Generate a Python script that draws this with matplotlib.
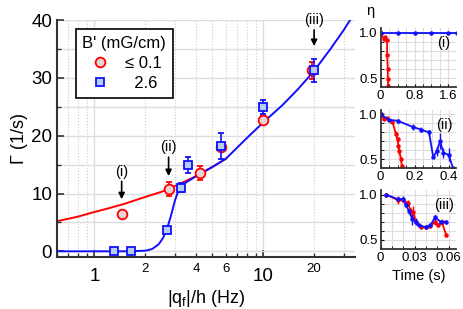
import numpy as np
import matplotlib
matplotlib.use('Agg')
from matplotlib import pyplot as plt
from matplotlib.lines import Line2D
from matplotlib.ticker import FixedLocator, FixedFormatter

plt.rcParams['font.family'] = ['Liberation Sans', 'DejaVu Sans']
plt.rcParams['mathtext.default'] = 'regular'

# main panel data: Gamma vs |q_f|/h
q_red = [1.45, 2.75, 4.2, 5.6, 10.0, 19.5]
g_red = [6.5, 10.8, 13.5, 18.0, 22.8, 31.3]
e_red = [0.0, 1.2, 1.2, 0.0, 0.6, 1.5]

q_blue = [1.3, 1.65, 2.7, 3.25, 3.6, 5.6, 10.0, 20.0]
g_blue = [0.0, 0.0, 3.7, 11.0, 15.0, 18.2, 25.0, 31.3]
e_blue = [0.0, 0.0, 0.0, 0.8, 1.4, 2.3, 1.2, 2.0]

# fitted curves
qf_red = [0.6, 0.8, 1.0, 1.2, 1.5, 2.0, 2.5, 3.0, 3.5, 4.0, 5.0, 6.0]
gf_red = [5.2, 6.0, 6.8, 7.4, 8.2, 9.4, 10.3, 11.3, 12.2, 13.0, 14.6, 16.0]
qf_blue = [0.6, 1.0, 1.5, 2.0, 2.2, 2.4, 2.55, 2.7, 2.85, 3.0, 3.1, 3.2, 3.4,
           4.0, 5.0, 6.0, 8.0, 10.0, 13.0, 16.0, 20.0, 25.0, 30.0, 33.5]
gf_blue = [0.0, 0.0, 0.0, 0.1, 0.4, 1.2, 2.3, 4.0, 6.3, 8.8, 10.0, 10.8, 11.7,
           13.0, 14.6, 16.0, 19.6, 22.3, 25.3, 28.0, 31.2, 35.0, 38.3, 40.5]

arrow_q = [1.45, 2.75, 20.0]
arrow_tip = [9.0, 13.0, 35.5]
arrow_txt = [13.8, 18.0, 40.0]
arrow_lab = ['(i)', '(ii)', '(iii)']

# small panels: eta vs time
t1_red = [0, 0.08, 0.11, 0.15, 0.155, 0.17, 0.17, 0.18]
e1_red = [1.0, 0.93, 0.95, 0.92, 0.75, 0.6, 0.49, 0.41]
t1_blue = [0, 0.4, 0.8, 1.2, 1.6, 1.8]
e1_blue = [1.0, 1.0, 1.0, 1.0, 1.0, 1.0]

t2_red = [0, 0.02, 0.04, 0.07, 0.09, 0.1, 0.105, 0.11, 0.12, 0.125]
e2_red = [1.0, 0.95, 0.96, 0.92, 0.78, 0.72, 0.65, 0.59, 0.5, 0.42]
s2_red = [0, 0, 0, 0.02, 0.03, 0.03, 0.03, 0.03, 0.02, 0]
t2_blue = [0, 0.05, 0.10, 0.19, 0.24, 0.285, 0.31, 0.33, 0.35, 0.37, 0.40, 0.426]
e2_blue = [1.0, 0.94, 0.93, 0.86, 0.83, 0.80, 0.52, 0.59, 0.70, 0.57, 0.55, 0.40]
s2_blue = [0, 0, 0.02, 0.03, 0.03, 0.03, 0, 0.05, 0.09, 0.06, 0.07, 0]

t3_red = [0.005, 0.015, 0.02, 0.024, 0.027, 0.029, 0.031, 0.036, 0.04, 0.044, 0.048, 0.051, 0.054, 0.058]
e3_red = [1.0, 0.94, 0.94, 0.91, 0.81, 0.81, 0.70, 0.64, 0.64, 0.65, 0.70, 0.66, 0.70, 0.55]
s3_red = [0, 0.04, 0.02, 0.03, 0.04, 0.06, 0.03, 0.02, 0.02, 0.02, 0.03, 0.02, 0.03, 0.02]
t3_blue = [0.005, 0.015, 0.02, 0.022, 0.025, 0.028, 0.031, 0.034, 0.04, 0.044, 0.048, 0.053, 0.058]
e3_blue = [1.0, 0.95, 0.95, 0.89, 0.82, 0.73, 0.70, 0.66, 0.64, 0.66, 0.75, 0.70, 0.70]
s3_blue = [0, 0.02, 0.03, 0.03, 0.03, 0.06, 0.04, 0.02, 0.02, 0.02, 0.03, 0.02, 0.02]

RED = '#ff0000'
BLUE = '#1010ff'

fig = plt.figure(figsize=(4.63, 3.09), dpi=100)
ax = fig.add_axes([0.123, 0.168, 0.644, 0.767])

ax.plot(qf_red, gf_red, color=RED, lw=1.4, zorder=2)
ax.plot(qf_blue, gf_blue, color=BLUE, lw=1.4, zorder=3)
ax.errorbar(q_red, g_red, yerr=e_red, fmt='o', ms=7, mfc='#e8d4d4', mec=RED,
            mew=1.3, ecolor=RED, elinewidth=1.2, capsize=2, zorder=4)
ax.errorbar(q_blue, g_blue, yerr=e_blue, fmt='s', ms=6, mfc='#b4cdf0', mec=BLUE,
            mew=1.3, ecolor=BLUE, elinewidth=1.2, capsize=2, zorder=5)

for q, tip, ty, lab in zip(arrow_q, arrow_tip, arrow_txt, arrow_lab):
    ax.annotate('', xy=(q, tip), xytext=(q, ty - 1.7),
                arrowprops=dict(arrowstyle='-|>', color='black', lw=1.2,
                                mutation_scale=9, shrinkA=0, shrinkB=0))
    ax.text(q, ty, lab, ha='center', va='center', fontsize=10.5)

ax.set_xscale('log')
ax.set_xlim(0.6, 35)
ax.set_ylim(-1, 40)
ax.xaxis.set_major_locator(FixedLocator([1, 10]))
ax.xaxis.set_major_formatter(FixedFormatter(['1', '10']))
minors = [0.6, 0.7, 0.8, 0.9, 2, 3, 4, 5, 6, 7, 8, 9, 20, 30]
ax.xaxis.set_minor_locator(FixedLocator(minors))
ax.xaxis.set_minor_formatter(FixedFormatter([str(m) if m in (2, 4, 6, 20) else '' for m in minors]))
ax.set_yticks([0, 10, 20, 30, 40])
ax.set_yticks([5, 15, 25, 35], minor=True)
ax.tick_params(which='both', direction='in', color='#333333')
ax.tick_params(which='major', labelsize=13.5, length=5, width=1.2)
ax.tick_params(which='minor', labelsize=9.5, length=3, width=1)
ax.tick_params(axis='x', which='major', pad=8)
ax.tick_params(axis='x', which='minor', pad=4)
ax.grid(True, which='major', color='#dddddd', lw=1)
ax.grid(True, which='minor', axis='y', color='#dddddd', lw=1)
ax.grid(True, which='minor', axis='x', color='#cccccc', lw=0.8, ls=':')
for s in ['top', 'right']:
    ax.spines[s].set_visible(False)
for s in ['left', 'bottom']:
    ax.spines[s].set_linewidth(1.5)
    ax.spines[s].set_color('#333333')
ax.set_ylabel('Γ (1/s)', fontsize=13, labelpad=2)
ax.set_xlabel('|q$_\\mathregular{f}$|/h (Hz)', fontsize=13, labelpad=2)

handles = [Line2D([], [], ls='', marker='o', ms=7, mfc='#e8d4d4', mec=RED, mew=1.3),
           Line2D([], [], ls='', marker='s', ms=6, mfc='#b4cdf0', mec=BLUE, mew=1.3)]
leg = ax.legend(handles, ['≤ 0.1', '  2.6'], loc='upper left', bbox_to_anchor=(0.063, 0.961),
                borderaxespad=0, title="B' (mG/cm)", fontsize=12, title_fontsize=12,
                frameon=True, fancybox=False, edgecolor='black', borderpad=0.4,
                handletextpad=0.7, handlelength=1.6, labelspacing=0.3)
leg.get_frame().set_linewidth(1.2)
leg.get_frame().set_alpha(1)

# small panels
panels = [
    ([0.822, 0.718, 0.163, 0.191], (0, 1.78), [0, 0.8, 1.6], ['0', '0.8', '1.6'], 0.2, '(i)',
     (t1_red, e1_red, None), (t1_blue, e1_blue, None)),
    ([0.822, 0.456, 0.163, 0.188], (0, 0.444), [0, 0.2, 0.4], ['0', '0.2', '0.4'], 0.05, '(ii)',
     (t2_red, e2_red, s2_red), (t2_blue, e2_blue, s2_blue)),
    ([0.822, 0.194, 0.163, 0.191], (0, 0.0666), [0, 0.03, 0.06], ['0', '0.03', '0.06'], 0.01, '(iii)',
     (t3_red, e3_red, s3_red), (t3_blue, e3_blue, s3_blue)),
]
for pos, xl, xt, xtl, step, lab, red, blue in panels:
    a = fig.add_axes(pos)
    for (t, e, s), c in [(red, RED), (blue, BLUE)]:
        a.errorbar(t, e, yerr=s, color=c, lw=1.3, marker='o', ms=2.2, elinewidth=1, capsize=0)
    a.set_xlim(*xl)
    a.set_ylim(0.40, 1.05)
    a.set_xticks(xt)
    a.set_xticklabels(xtl)
    a.set_xticks(np.arange(0, xl[1], step), minor=True)
    a.set_yticks([0.5, 1.0])
    a.set_yticklabels(['0.5', '1.0'])
    a.set_yticks([0.6, 0.7, 0.8, 0.9], minor=True)
    a.grid(True, which='both', color='#dddddd', lw=0.8)
    a.set_axisbelow(True)
    a.tick_params(which='both', direction='in', labelsize=9.5, length=2.5, pad=2)
    for s in ['top', 'right']:
        a.spines[s].set_visible(False)
    for s in ['left', 'bottom']:
        a.spines[s].set_linewidth(1.3)
        a.spines[s].set_color('#333333')
    a.text(0.84, 0.75, lab, transform=a.transAxes, ha='center', va='center', fontsize=10.5)
    last = a

last.set_xlabel('Time (s)', fontsize=10.5, labelpad=4)
fig.text(0.80, 0.965, 'η', fontsize=10.5, ha='center', va='center')

fig.savefig('out.png', dpi=100)
